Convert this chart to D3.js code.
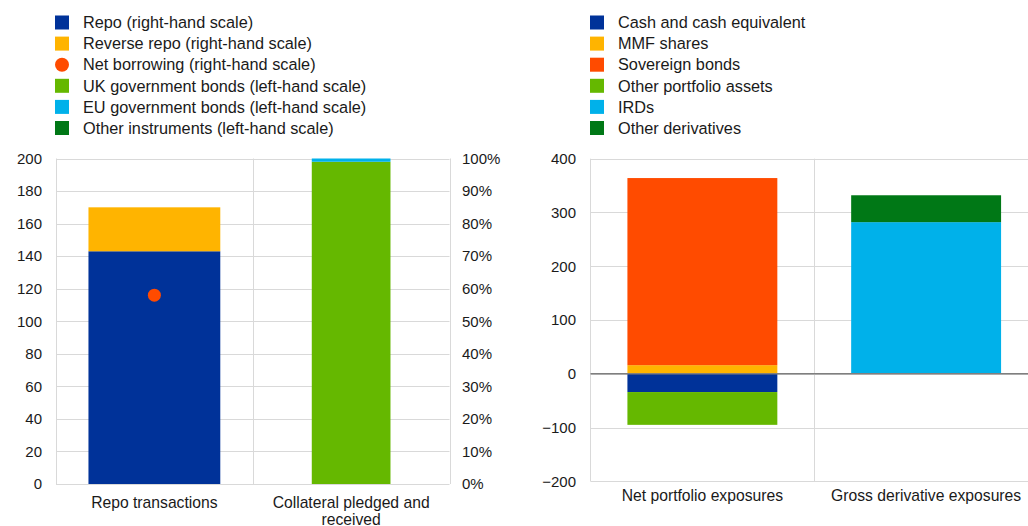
<!DOCTYPE html>
<html>
<head>
<meta charset="utf-8">
<script src="https://cdn.jsdelivr.net/npm/d3@7"></script>
<style>
  body { margin: 0; background: #fff; }
  svg { display: block; font-family: "Liberation Sans", Arial, sans-serif; }
  .tick text { font-size: 15px; fill: #1a1a1a; }
  .legend text { font-size: 16.3px; fill: #1a1a1a; }
  .cat { font-size: 15.7px; fill: #1a1a1a; }
  .grid line { stroke: #d9d9d9; stroke-width: 1; }
</style>
</head>
<body>
<svg id="chart" width="1028" height="526"></svg>
<script>
// ---------- DATA ----------
// left panel
var leftCats = ["Repo transactions", "Collateral pledged and received"];
var repoNames = ["Repo (right-hand scale)", "Reverse repo (right-hand scale)"];
var repoVals = [143, 27];
var netBorrowingName = "Net borrowing (right-hand scale)";
var netBorrowing = 116;
var collNames = ["UK government bonds (left-hand scale)", "EU government bonds (left-hand scale)", "Other instruments (left-hand scale)"];
var collShares = [0.99, 0.01, 0];
var leftTicks = [0, 20, 40, 60, 80, 100, 120, 140, 160, 180, 200];
var rightPctTicks = [0, 0.1, 0.2, 0.3, 0.4, 0.5, 0.6, 0.7, 0.8, 0.9, 1];

// right panel
var rightCats = ["Net portfolio exposures", "Gross derivative exposures"];
var portNames = ["Cash and cash equivalent", "MMF shares", "Sovereign bonds", "Other portfolio assets"];
var portVals = [-34, 16, 348, -61];
var derivNames = ["IRDs", "Other derivatives"];
var derivVals = [282, 50];
var rTicks = [-200, -100, 0, 100, 200, 300, 400];

var col = {
  navy: "#003299", yellow: "#ffb400", red: "#ff4b00",
  green: "#65b800", cyan: "#00b1ea", dgreen: "#007816"
};

var svg = d3.select("#chart");

//----------- LEGENDS -----------//
function drawLegend(x, items) {
  var g = svg.append("g").attr("class", "legend");
  items.forEach(function(d, i) {
    var cy = 22.5 + i * 21.1;
    if (d.dot) {
      g.append("circle").attr("cx", x + 7).attr("cy", cy).attr("r", 7).attr("fill", d.color);
    } else {
      g.append("rect").attr("x", x).attr("y", cy - 7).attr("width", 14).attr("height", 14).attr("fill", d.color);
    }
    g.append("text").attr("x", x + 28).attr("y", cy).attr("dy", "0.35em").text(d.name);
  });
}

drawLegend(55, [
  {name: repoNames[0], color: col.navy},
  {name: repoNames[1], color: col.yellow},
  {name: netBorrowingName, color: col.red, dot: true},
  {name: collNames[0], color: col.green},
  {name: collNames[1], color: col.cyan},
  {name: collNames[2], color: col.dgreen}
]);

drawLegend(590, [
  {name: portNames[0], color: col.navy},
  {name: portNames[1], color: col.yellow},
  {name: portNames[2], color: col.red},
  {name: portNames[3], color: col.green},
  {name: derivNames[0], color: col.cyan},
  {name: derivNames[1], color: col.dgreen}
]);

//----------- LEFT PANEL -----------//
var lx = d3.scaleBand().domain(leftCats).range([56, 449.5]);
var ly = d3.scaleLinear().domain([0, 200]).range([484, 158.5]);
var lyPct = d3.scaleLinear().domain([0, 1]).range([484, 158.5]);

// grid
svg.append("g").attr("class", "grid")
  .selectAll("line").data(leftTicks).enter().append("line")
  .attr("x1", 56).attr("x2", 449.5)
  .attr("y1", function(d) { return Math.round(ly(d)) + 0.5; })
  .attr("y2", function(d) { return Math.round(ly(d)) + 0.5; });
svg.append("g").attr("class", "grid")
  .selectAll("line").data([56, lx(leftCats[1]), 449.5]).enter().append("line")
  .attr("x1", function(d) { return Math.round(d) + 0.5; })
  .attr("x2", function(d) { return Math.round(d) + 0.5; })
  .attr("y1", 158.5).attr("y2", 484);

// left axis
svg.append("g").attr("transform", "translate(42,0)")
  .call(d3.axisLeft(ly).tickValues(leftTicks).tickSize(0).tickPadding(0))
  .call(function(g) { g.select(".domain").remove(); })
  .selectAll("text").style("font-family", "inherit");

// right % axis
svg.append("g").attr("transform", "translate(462,0)")
  .call(d3.axisRight(lyPct).tickValues(rightPctTicks).tickFormat(d3.format(".0%")).tickSize(0).tickPadding(0))
  .call(function(g) { g.select(".domain").remove(); })
  .selectAll("text").style("font-family", "inherit");

// repo stack
var repoW = lx.bandwidth() * 0.67;
var repoColors = [col.navy, col.yellow];
var base = 0;
repoVals.forEach(function(v, i) {
  var cx = lx(leftCats[0]) + lx.bandwidth() / 2;
  svg.append("rect")
    .attr("x", cx - repoW / 2).attr("width", repoW)
    .attr("y", ly(base + v)).attr("height", ly(base) - ly(base + v))
    .attr("fill", repoColors[i]);
  base += v;
});

// collateral stack (percentage)
var collW = lx.bandwidth() * 0.40;
var collColors = [col.green, col.cyan, col.dgreen];
base = 0;
collShares.forEach(function(v, i) {
  if (!v) return;
  var cx = lx(leftCats[1]) + lx.bandwidth() / 2;
  svg.append("rect")
    .attr("x", cx - collW / 2).attr("width", collW)
    .attr("y", lyPct(base + v)).attr("height", lyPct(base) - lyPct(base + v))
    .attr("fill", collColors[i]);
  base += v;
});

// net borrowing dot
svg.append("circle")
  .attr("cx", lx(leftCats[0]) + lx.bandwidth() / 2)
  .attr("cy", ly(netBorrowing))
  .attr("r", 6.5)
  .attr("fill", col.red);

// category labels
svg.append("text").attr("class", "cat")
  .attr("x", lx(leftCats[0]) + lx.bandwidth() / 2).attr("y", 508)
  .attr("text-anchor", "middle").text(leftCats[0]);
var wrapT = svg.append("text").attr("class", "cat")
  .attr("x", lx(leftCats[1]) + lx.bandwidth() / 2).attr("y", 508)
  .attr("text-anchor", "middle");
wrapT.append("tspan").attr("x", lx(leftCats[1]) + lx.bandwidth() / 2).text("Collateral pledged and");
wrapT.append("tspan").attr("x", lx(leftCats[1]) + lx.bandwidth() / 2).attr("dy", 17).text("received");

//----------- RIGHT PANEL -----------//
var rx = d3.scaleBand().domain(rightCats).range([590.5, 1038]);
var ry = d3.scaleLinear().domain([-200, 400]).range([481.3, 158.7]);

svg.append("g").attr("class", "grid")
  .selectAll("line").data(rTicks).enter().append("line")
  .attr("x1", 590.5).attr("x2", 1028)
  .attr("y1", function(d) { return Math.round(ry(d)) + 0.5; })
  .attr("y2", function(d) { return Math.round(ry(d)) + 0.5; });
svg.append("g").attr("class", "grid")
  .selectAll("line").data([590, rx(rightCats[1])]).enter().append("line")
  .attr("x1", function(d) { return Math.round(d) + 0.5; })
  .attr("x2", function(d) { return Math.round(d) + 0.5; })
  .attr("y1", 158.7).attr("y2", 481.3);

svg.append("g").attr("transform", "translate(576,0)")
  .call(d3.axisLeft(ry).tickValues(rTicks).tickSize(0).tickPadding(0))
  .call(function(g) { g.select(".domain").remove(); })
  .selectAll("text").style("font-family", "inherit");

function drawStack(cat, vals, colors) {
  var w = rx.bandwidth() * 0.67;
  var cx = rx(cat) + rx.bandwidth() / 2;
  var pos = 0, neg = 0;
  vals.forEach(function(v, i) {
    var y0, y1;
    if (v >= 0) { y0 = pos; y1 = pos + v; pos = y1; }
    else { y0 = neg; y1 = neg + v; neg = y1; }
    svg.append("rect")
      .attr("x", cx - w / 2).attr("width", w)
      .attr("y", ry(Math.max(y0, y1)))
      .attr("height", Math.abs(ry(y0) - ry(y1)))
      .attr("fill", colors[i]);
  });
}
drawStack(rightCats[0], portVals, [col.navy, col.yellow, col.red, col.green]);
drawStack(rightCats[1], derivVals, [col.cyan, col.dgreen]);

// zero line
svg.append("line")
  .attr("x1", 590.5).attr("x2", 1028)
  .attr("y1", ry(0)).attr("y2", ry(0))
  .attr("stroke", "#7f7f7f").attr("stroke-width", 1.5);

rightCats.forEach(function(c) {
  svg.append("text").attr("class", "cat")
    .attr("x", rx(c) + rx.bandwidth() / 2).attr("y", 501)
    .attr("text-anchor", "middle").text(c);
});
</script>
</body>
</html>
